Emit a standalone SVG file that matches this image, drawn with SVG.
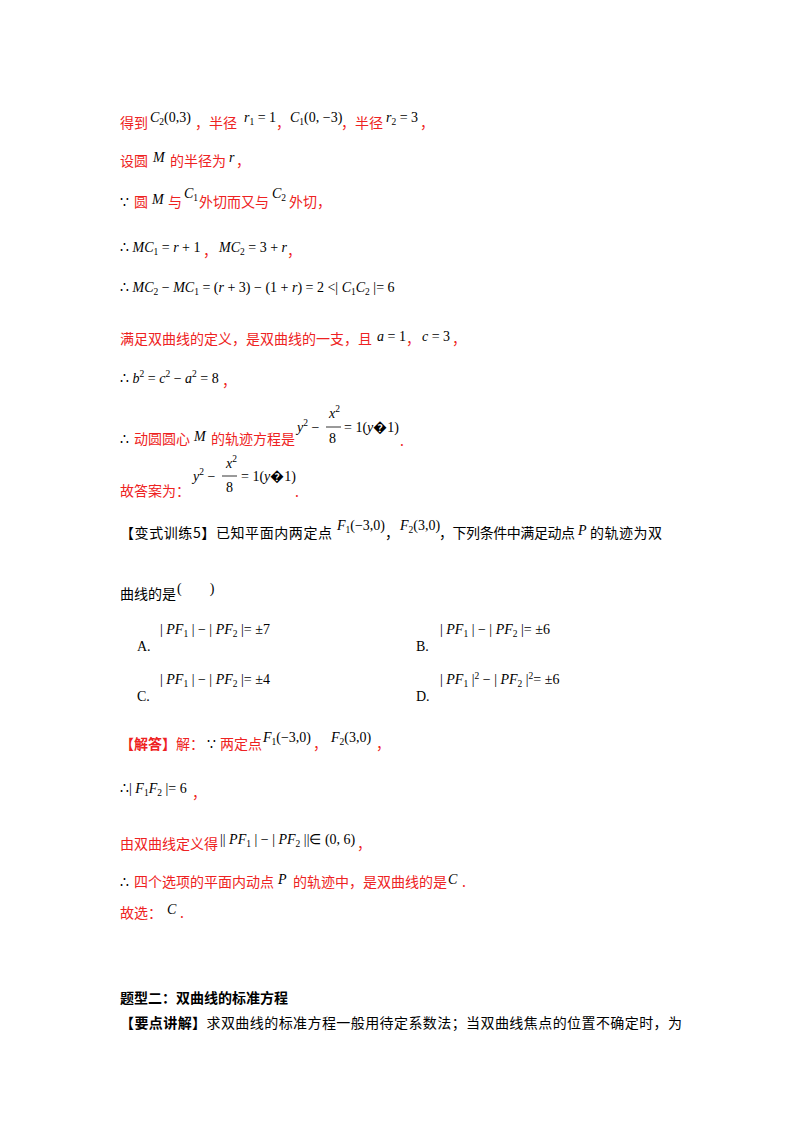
<svg xmlns="http://www.w3.org/2000/svg" width="800" height="1132" viewBox="0 0 800 1132">
<style>
.c{font-family:"Noto Sans CJK SC",sans-serif;font-size:14px}
.r{fill:#ee2222}
.k{fill:#000}
.m{font-family:"Liberation Serif",serif;font-size:14px;fill:#000}
.i{font-style:italic}
.s{font-size:9.5px}
.b{font-weight:bold}
</style>
<rect width="800" height="1132" fill="#fff"/>
<g id="line1">
<text x="120" y="128" class="c r">得到</text>
<text x="150" y="122" class="m"><tspan class="i">C</tspan><tspan class="s" dy="3">2</tspan><tspan dy="-3">(0,3)</tspan></text>
<text x="195" y="128" class="c r">，半径</text>
<text x="244" y="122" class="m"><tspan class="i">r</tspan><tspan class="s" dy="3">1</tspan><tspan dy="-3"> = 1</tspan></text>
<text x="276" y="128" class="c r">，</text>
<text x="290" y="122" class="m"><tspan class="i">C</tspan><tspan class="s" dy="3">1</tspan><tspan dy="-3">(0, −3)</tspan></text>
<text x="341" y="128" class="c r">，半径</text>
<text x="386" y="122" class="m"><tspan class="i">r</tspan><tspan class="s" dy="3">2</tspan><tspan dy="-3"> = 3</tspan></text>
<text x="420" y="128" class="c r">，</text>
</g>
<g id="line2">
<text x="120" y="166" class="c r">设圆</text>
<text x="153" y="162" class="m i">M</text>
<text x="170" y="166" class="c r">的半径为</text>
<text x="229" y="162" class="m i">r</text>
<text x="236" y="166" class="c r">，</text>
</g>
<g id="line3">
<text x="120" y="207" class="m">∵</text>
<text x="134" y="207" class="c r">圆</text>
<text x="152" y="204" class="m i">M</text>
<text x="168" y="207" class="c r">与</text>
<text x="184" y="198" class="m"><tspan class="i">C</tspan><tspan class="s" dy="3">1</tspan></text>
<text x="199" y="207" class="c r">外切而又与</text>
<text x="272" y="198" class="m"><tspan class="i">C</tspan><tspan class="s" dy="3">2</tspan></text>
<text x="289" y="207" class="c r">外切，</text>
</g>
<g id="line4">
<text x="120" y="252" class="m">∴ <tspan class="i">MC</tspan><tspan class="s" dy="3">1</tspan><tspan dy="-3"> = </tspan><tspan class="i">r</tspan> + 1</text>
<text x="203" y="256" class="c r">，</text>
<text x="219" y="252" class="m"><tspan class="i">MC</tspan><tspan class="s" dy="3">2</tspan><tspan dy="-3"> = 3 + </tspan><tspan class="i">r</tspan></text>
<text x="287" y="256" class="c r">，</text>
</g>
<g id="line5">
<text x="120" y="292" class="m">∴ <tspan class="i">MC</tspan><tspan class="s" dy="3">2</tspan><tspan dy="-3"> − </tspan><tspan class="i">MC</tspan><tspan class="s" dy="3">1</tspan><tspan dy="-3"> = (</tspan><tspan class="i">r</tspan> + 3) − (1 + <tspan class="i">r</tspan>) = 2 &lt;| <tspan class="i">C</tspan><tspan class="s" dy="3">1</tspan><tspan class="i" dy="-3">C</tspan><tspan class="s" dy="3">2</tspan><tspan dy="-3"> |= 6</tspan></text>
</g>
<g id="line6">
<text x="120" y="344" class="c r">满足双曲线的定义，是双曲线的一支，且</text>
<text x="377" y="341" class="m"><tspan class="i">a</tspan> = 1</text>
<text x="406" y="344" class="c r">，</text>
<text x="422" y="341" class="m"><tspan class="i">c</tspan> = 3</text>
<text x="452" y="344" class="c r">，</text>
</g>
<g id="line7">
<text x="120" y="383" class="m">∴ <tspan class="i">b</tspan><tspan class="s" dy="-6">2</tspan><tspan dy="6"> = </tspan><tspan class="i">c</tspan><tspan class="s" dy="-6">2</tspan><tspan dy="6"> − </tspan><tspan class="i">a</tspan><tspan class="s" dy="-6">2</tspan><tspan dy="6"> = 8</tspan></text>
<text x="222" y="386" class="c r">，</text>
</g>
<g id="line8">
<text x="120" y="444" class="m">∴</text>
<text x="134" y="444" class="c r">动圆圆心</text>
<text x="194" y="441" class="m i">M</text>
<text x="211" y="444" class="c r">的轨迹方程是</text>
<text x="297" y="432" class="m"><tspan class="i">y</tspan><tspan class="s" dy="-6">2</tspan><tspan dy="6"> −</tspan></text>
<text x="329" y="418" class="m"><tspan class="i">x</tspan><tspan class="s" dy="-6">2</tspan></text>
<line x1="326" y1="427" x2="341" y2="427" stroke="#000" stroke-width="0.8"/>
<text x="329" y="443" class="m">8</text>
<text x="344" y="432" class="m">= 1(<tspan class="i">y</tspan>�1)</text>
<text x="400" y="446" class="c r">.</text>
</g>
<g id="line9">
<text x="120" y="496" class="c r">故答案为：</text>
<text x="193" y="481" class="m"><tspan class="i">y</tspan><tspan class="s" dy="-6">2</tspan><tspan dy="6"> −</tspan></text>
<text x="226" y="468" class="m"><tspan class="i">x</tspan><tspan class="s" dy="-6">2</tspan></text>
<line x1="222" y1="476" x2="237" y2="476" stroke="#000" stroke-width="0.8"/>
<text x="226" y="492" class="m">8</text>
<text x="241" y="481" class="m">= 1(<tspan class="i">y</tspan>�1)</text>
<text x="295" y="497" class="c r">.</text>
</g>
<g id="q5">
<text x="120" y="538" class="c k" textLength="212" lengthAdjust="spacing">【变式训练5】已知平面内两定点</text>
<text x="337" y="530" class="m"><tspan class="i">F</tspan><tspan class="s" dy="3">1</tspan><tspan dy="-3">(−3,0)</tspan></text>
<text x="385" y="538" class="c k">，</text>
<text x="400" y="530" class="m"><tspan class="i">F</tspan><tspan class="s" dy="3">2</tspan><tspan dy="-3">(3,0)</tspan></text>
<text x="439" y="538" class="c k" textLength="136" lengthAdjust="spacing">，下列条件中满足动点</text>
<text x="578" y="535" class="m i">P</text>
<text x="590" y="538" class="c k" textLength="72" lengthAdjust="spacing">的轨迹为双</text>
<text x="120" y="599" class="c k">曲线的是</text>
<text x="177" y="593" class="m">(　　)</text>
</g>
<g id="options">
<text x="137" y="651" class="m">A.</text>
<text x="160" y="634" class="m">| <tspan class="i">PF</tspan><tspan class="s" dy="3">1</tspan><tspan dy="-3"> | − | </tspan><tspan class="i">PF</tspan><tspan class="s" dy="3">2</tspan><tspan dy="-3"> |= ±7</tspan></text>
<text x="416" y="651" class="m">B.</text>
<text x="440" y="634" class="m">| <tspan class="i">PF</tspan><tspan class="s" dy="3">1</tspan><tspan dy="-3"> | − | </tspan><tspan class="i">PF</tspan><tspan class="s" dy="3">2</tspan><tspan dy="-3"> |= ±6</tspan></text>
<text x="137" y="701" class="m">C.</text>
<text x="160" y="684" class="m">| <tspan class="i">PF</tspan><tspan class="s" dy="3">1</tspan><tspan dy="-3"> | − | </tspan><tspan class="i">PF</tspan><tspan class="s" dy="3">2</tspan><tspan dy="-3"> |= ±4</tspan></text>
<text x="416" y="701" class="m">D.</text>
<text x="440" y="684" class="m">| <tspan class="i">PF</tspan><tspan class="s" dy="3">1</tspan><tspan dy="-3"> |</tspan><tspan class="s" dy="-5">2</tspan><tspan dy="5"> − | </tspan><tspan class="i">PF</tspan><tspan class="s" dy="3">2</tspan><tspan dy="-3"> |</tspan><tspan class="s" dy="-5">2</tspan><tspan dy="5">= ±6</tspan></text>
</g>
<g id="ans">
<text x="120" y="749" class="c r"><tspan class="b">【解答】</tspan>解：</text>
<text x="207" y="749" class="m">∵</text>
<text x="220" y="749" class="c r">两定点</text>
<text x="263" y="742" class="m"><tspan class="i">F</tspan><tspan class="s" dy="3">1</tspan><tspan dy="-3">(−3,0)</tspan></text>
<text x="313" y="749" class="c r">，</text>
<text x="331" y="742" class="m"><tspan class="i">F</tspan><tspan class="s" dy="3">2</tspan><tspan dy="-3">(3,0)</tspan></text>
<text x="376" y="749" class="c r">，</text>
<text x="120" y="793" class="m">∴| <tspan class="i">F</tspan><tspan class="s" dy="3">1</tspan><tspan class="i" dy="-3">F</tspan><tspan class="s" dy="3">2</tspan><tspan dy="-3"> |= 6</tspan></text>
<text x="192" y="798" class="c r">，</text>
<text x="120" y="849" class="c r">由双曲线定义得</text>
<text x="220" y="844" class="m">|| <tspan class="i">PF</tspan><tspan class="s" dy="3">1</tspan><tspan dy="-3"> | − | </tspan><tspan class="i">PF</tspan><tspan class="s" dy="3">2</tspan><tspan dy="-3"> ||∈ (0, 6)</tspan></text>
<text x="357" y="849" class="c r">，</text>
<text x="120" y="887" class="m">∴</text>
<text x="134" y="887" class="c r">四个选项的平面内动点</text>
<text x="278" y="884" class="m i">P</text>
<text x="293" y="887" class="c r">的轨迹中，是双曲线的是</text>
<text x="448" y="884" class="m i">C</text>
<text x="462" y="887" class="c r">.</text>
<text x="120" y="918" class="c r">故选：</text>
<text x="167" y="914" class="m i">C</text>
<text x="180" y="918" class="c r">.</text>
</g>
<g id="section">
<text x="120" y="1003" class="c k b">题型二：双曲线的标准方程</text>
<text x="120" y="1028" class="c k" textLength="562" lengthAdjust="spacing"><tspan class="b">【要点讲解】</tspan>求双曲线的标准方程一般用待定系数法；当双曲线焦点的位置不确定时，为</text>
</g>
</svg>
